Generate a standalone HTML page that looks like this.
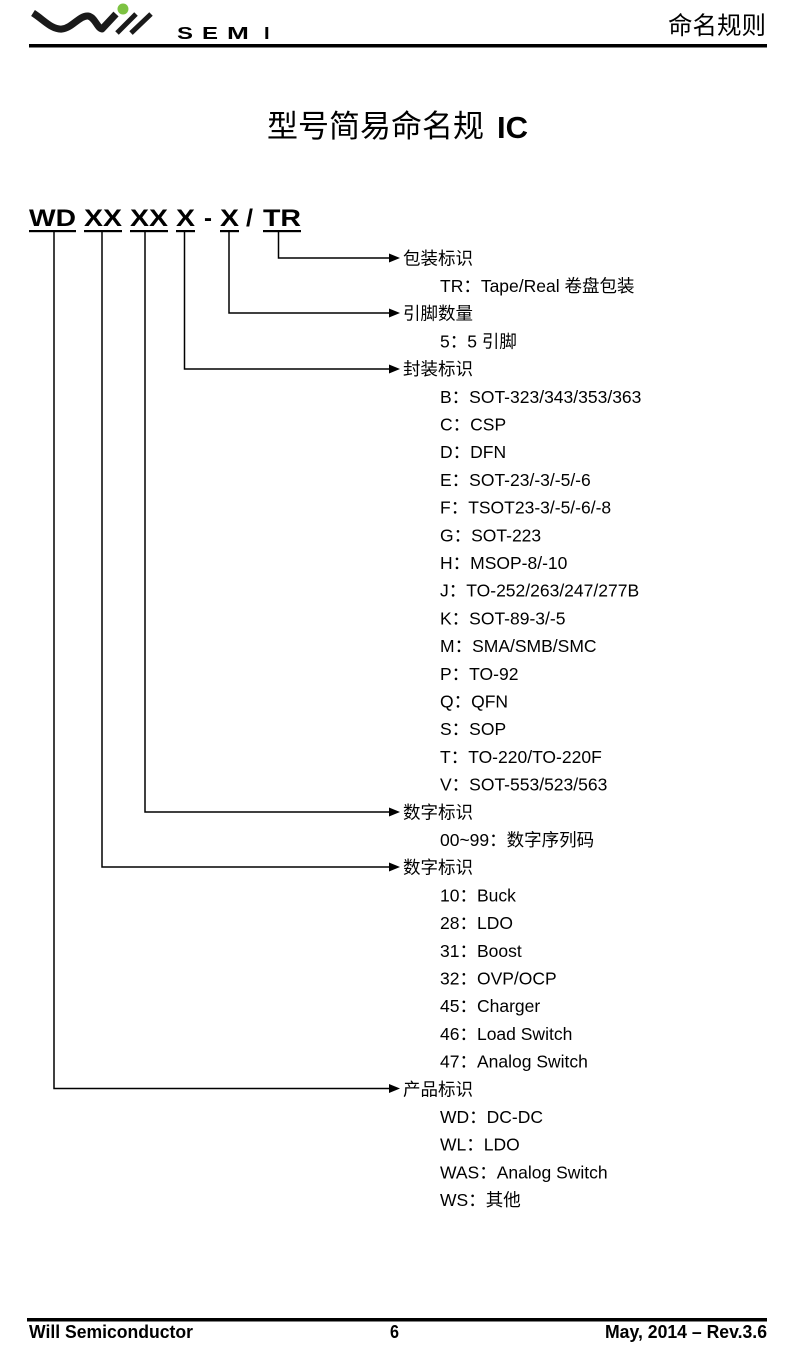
<!DOCTYPE html>
<html><head><meta charset="utf-8"><style>
html,body{margin:0;padding:0;background:#fff;}
svg{display:block;}
text{font-family:"Liberation Sans","Noto Sans CJK SC",sans-serif;fill:#000;}
.c{font-family:"Noto Sans CJK SC","Liberation Sans",sans-serif;}
.code{font-size:24px;font-weight:bold;}
.lab{font-size:17.5px;}
</style></head><body>
<svg width="800" height="1349" viewBox="0 0 800 1349" xmlns="http://www.w3.org/2000/svg">
<rect width="800" height="1349" fill="#fff"/>
<!-- logo -->
<path d="M33,13 C44,20 52,30 62,29 C72,28 80,15 88,16 C95,17 97,28 102,29 L116,14" fill="none" stroke="#1a1a1a" stroke-width="7" stroke-linejoin="round"/>
<line x1="117" y1="33" x2="136" y2="14" stroke="#1a1a1a" stroke-width="5"/>
<line x1="131" y1="33" x2="151" y2="14" stroke="#1a1a1a" stroke-width="5"/>
<circle cx="123" cy="9" r="5.5" fill="#7dc242"/>
<g font-size="17.5" font-weight="bold">
<text transform="translate(177,39) scale(1.37,1)">S</text>
<text transform="translate(202,39) scale(1.37,1)">E</text>
<text transform="translate(227,39) scale(1.5,1)">M</text>
<text transform="translate(264,39) scale(1.15,1)">I</text>
</g>
<text x="668" y="34" font-size="24.5" class="c">命名规则</text>
<rect x="29" y="44" width="738" height="3.5" fill="#000"/>

<!-- title -->
<text x="267" y="137" font-size="31" class="c">型号简易命名规</text>
<text x="497" y="138" font-size="31" font-weight="bold" textLength="31" lengthAdjust="spacingAndGlyphs">IC</text>

<!-- code -->
<text class="code" x="29" y="226" textLength="47" lengthAdjust="spacingAndGlyphs">WD</text>
<text class="code" x="84" y="226" textLength="38" lengthAdjust="spacingAndGlyphs">XX</text>
<text class="code" x="130" y="226" textLength="38" lengthAdjust="spacingAndGlyphs">XX</text>
<text class="code" x="176" y="226" textLength="19" lengthAdjust="spacingAndGlyphs">X</text>
<text class="code" x="204" y="226" textLength="8" lengthAdjust="spacingAndGlyphs">-</text>
<text class="code" x="220" y="226" textLength="19" lengthAdjust="spacingAndGlyphs">X</text>
<text class="code" x="246" y="226" textLength="7" lengthAdjust="spacingAndGlyphs">/</text>
<text class="code" x="263" y="226" textLength="38" lengthAdjust="spacingAndGlyphs">TR</text>
<g fill="#000">
<rect x="29" y="230" width="47" height="2.2"/>
<rect x="84" y="230" width="38" height="2.2"/>
<rect x="130" y="230" width="38" height="2.2"/>
<rect x="176" y="230" width="19" height="2.2"/>
<rect x="220" y="230" width="19" height="2.2"/>
<rect x="263" y="230" width="38" height="2.2"/>
</g>

<!-- connectors -->
<g fill="none" stroke="#000" stroke-width="1.5">
<polyline points="278.5,232 278.5,258 391,258"/>
<polyline points="229,232 229,313 391,313"/>
<polyline points="184.5,232 184.5,369 391,369"/>
<polyline points="145,232 145,812 391,812"/>
<polyline points="102,232 102,867 391,867"/>
<polyline points="54,232 54,1088.5 391,1088.5"/>
</g>
<g fill="#000">
<polygon points="389,253.5 400,258 389,262.5"/>
<polygon points="389,308.5 400,313 389,317.5"/>
<polygon points="389,364.5 400,369 389,373.5"/>
<polygon points="389,807.5 400,812 389,816.5"/>
<polygon points="389,862.5 400,867 389,871.5"/>
<polygon points="389,1084 400,1088.5 389,1093"/>
</g>

<!-- labels -->
<text class="lab" x="403" y="264.3">包装标识</text>
<text class="lab" x="440" y="292">TR：Tape/Real 卷盘包装</text>
<text class="lab" x="403" y="319.7">引脚数量</text>
<text class="lab" x="440" y="347.4">5：5 引脚</text>
<text class="lab" x="403" y="375.1">封装标识</text>
<text class="lab" x="440" y="402.8">B：SOT-323/343/353/363</text>
<text class="lab" x="440" y="430.5">C：CSP</text>
<text class="lab" x="440" y="458.2">D：DFN</text>
<text class="lab" x="440" y="485.9">E：SOT-23/-3/-5/-6</text>
<text class="lab" x="440" y="513.6">F：TSOT23-3/-5/-6/-8</text>
<text class="lab" x="440" y="541.3">G：SOT-223</text>
<text class="lab" x="440" y="569">H：MSOP-8/-10</text>
<text class="lab" x="440" y="596.7">J：TO-252/263/247/277B</text>
<text class="lab" x="440" y="624.4">K：SOT-89-3/-5</text>
<text class="lab" x="440" y="652.1">M：SMA/SMB/SMC</text>
<text class="lab" x="440" y="679.8">P：TO-92</text>
<text class="lab" x="440" y="707.5">Q：QFN</text>
<text class="lab" x="440" y="735.2">S：SOP</text>
<text class="lab" x="440" y="762.9">T：TO-220/TO-220F</text>
<text class="lab" x="440" y="790.6">V：SOT-553/523/563</text>
<text class="lab" x="403" y="818.3">数字标识</text>
<text class="lab" x="440" y="846">00~99：数字序列码</text>
<text class="lab" x="403" y="873.7">数字标识</text>
<text class="lab" x="440" y="901.4">10：Buck</text>
<text class="lab" x="440" y="929.1">28：LDO</text>
<text class="lab" x="440" y="956.8">31：Boost</text>
<text class="lab" x="440" y="984.5">32：OVP/OCP</text>
<text class="lab" x="440" y="1012.2">45：Charger</text>
<text class="lab" x="440" y="1039.9">46：Load Switch</text>
<text class="lab" x="440" y="1067.6">47：Analog Switch</text>
<text class="lab" x="403" y="1095.3">产品标识</text>
<text class="lab" x="440" y="1123">WD：DC-DC</text>
<text class="lab" x="440" y="1150.7">WL：LDO</text>
<text class="lab" x="440" y="1178.4">WAS：Analog Switch</text>
<text class="lab" x="440" y="1206.1">WS：其他</text>

<!-- footer -->
<rect x="27" y="1318" width="740" height="3.5" fill="#000"/>
<text x="29" y="1338" font-size="18" font-weight="bold" textLength="164" lengthAdjust="spacingAndGlyphs">Will Semiconductor</text>
<text x="390" y="1338" font-size="18" font-weight="bold" textLength="9" lengthAdjust="spacingAndGlyphs">6</text>
<text x="605" y="1338" font-size="18" font-weight="bold" textLength="162" lengthAdjust="spacingAndGlyphs">May, 2014 – Rev.3.6</text>
</svg>
</body></html>
